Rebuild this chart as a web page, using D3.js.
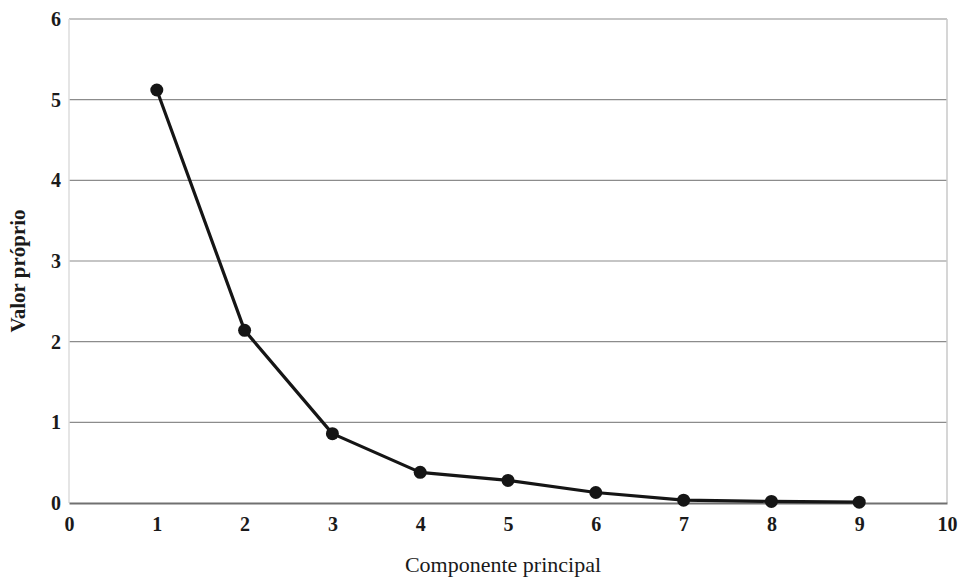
<!DOCTYPE html>
<html>
<head>
<meta charset="utf-8">
<script src="https://cdn.jsdelivr.net/npm/d3@7"></script>
<style>
  html, body { margin: 0; padding: 0; background: #fff; }
  svg { display: block; }
  text { font-family: "Liberation Serif", "DejaVu Serif", serif; fill: #1a1a1a; }
</style>
</head>
<body>
<svg id="chart" width="959" height="579"></svg>
<script>
// Scree plot: eigenvalue of each principal component
const components = [1, 2, 3, 4, 5, 6, 7, 8, 9];
const eigenvalues = [5.12, 2.14, 0.86, 0.38, 0.28, 0.13, 0.035, 0.02, 0.01];
const xTicks = [0, 1, 2, 3, 4, 5, 6, 7, 8, 9, 10];
const yTicks = [0, 1, 2, 3, 4, 5, 6];
// printed more faintly on the page
const fadedX = [10];
const fadedY = [1, 4];

const svg = d3.select("#chart");
const margin = { left: 69, right: 12, top: 19, bottom: 76 };
const W = 959, H = 579;

const x = d3.scaleLinear().domain([0, 10]).range([margin.left, W - margin.right]);
const y = d3.scaleLinear().domain([0, 6]).range([H - margin.bottom, margin.top]);

// Horizontal grid lines
svg.append("g")
  .selectAll("line")
  .data(yTicks.filter(d => d > 0))
  .join("line")
  .attr("x1", x(0)).attr("x2", x(10))
  .attr("y1", d => y(d)).attr("y2", d => y(d))
  .attr("stroke", "#8c8c8c")
  .attr("stroke-width", 1.2);

// Left and right frame
svg.append("line")
  .attr("x1", x(0)).attr("x2", x(0))
  .attr("y1", y(6)).attr("y2", y(0))
  .attr("stroke", "#dcdcdc").attr("stroke-width", 1.5);
svg.append("line")
  .attr("x1", x(10)).attr("x2", x(10))
  .attr("y1", y(6)).attr("y2", y(0))
  .attr("stroke", "#c8c8c8").attr("stroke-width", 1.5);

// Bottom axis
const xAxis = d3.axisBottom(x).tickValues(xTicks).tickSize(0).tickPadding(14).tickFormat(d3.format("d"));
const gx = svg.append("g").attr("transform", `translate(0,${y(0)})`).call(xAxis);
gx.select(".domain").attr("stroke", "#707070").attr("stroke-width", 2);
gx.selectAll("text")
  .attr("font-size", 20).attr("font-weight", "bold")
  .attr("font-family", "Liberation Serif, serif")
  .attr("fill", d => fadedX.includes(d) ? "#777" : "#1a1a1a");

// Left axis labels
const yAxis = d3.axisLeft(y).tickValues(yTicks).tickSize(0).tickPadding(8).tickFormat(d3.format("d"));
const gy = svg.append("g").attr("transform", `translate(${x(0)},0)`).call(yAxis);
gy.select(".domain").remove();
gy.selectAll("text")
  .attr("font-size", 20).attr("font-weight", "bold")
  .attr("font-family", "Liberation Serif, serif")
  .attr("fill", d => fadedY.includes(d) ? "#666" : "#1a1a1a");

// Eigenvalue curve
const pts = components.map((c, i) => [c, eigenvalues[i]]);
svg.append("path")
  .datum(pts)
  .attr("fill", "none")
  .attr("stroke", "#151515")
  .attr("stroke-width", 3.2)
  .attr("stroke-linejoin", "round")
  .attr("d", d3.line().x(d => x(d[0])).y(d => y(d[1])));

svg.append("g")
  .selectAll("circle")
  .data(pts)
  .join("circle")
  .attr("cx", d => x(d[0]))
  .attr("cy", d => y(d[1]))
  .attr("r", 6.5)
  .attr("fill", "#151515");

// Axis titles
svg.append("text")
  .attr("x", 503)
  .attr("y", 572)
  .attr("text-anchor", "middle")
  .attr("font-size", 22)
  .text("Componente principal");

svg.append("text")
  .attr("transform", `translate(25,271) rotate(-90)`)
  .attr("text-anchor", "middle")
  .attr("font-size", 21)
  .attr("font-weight", "bold")
  .text("Valor próprio");
</script>
</body>
</html>
